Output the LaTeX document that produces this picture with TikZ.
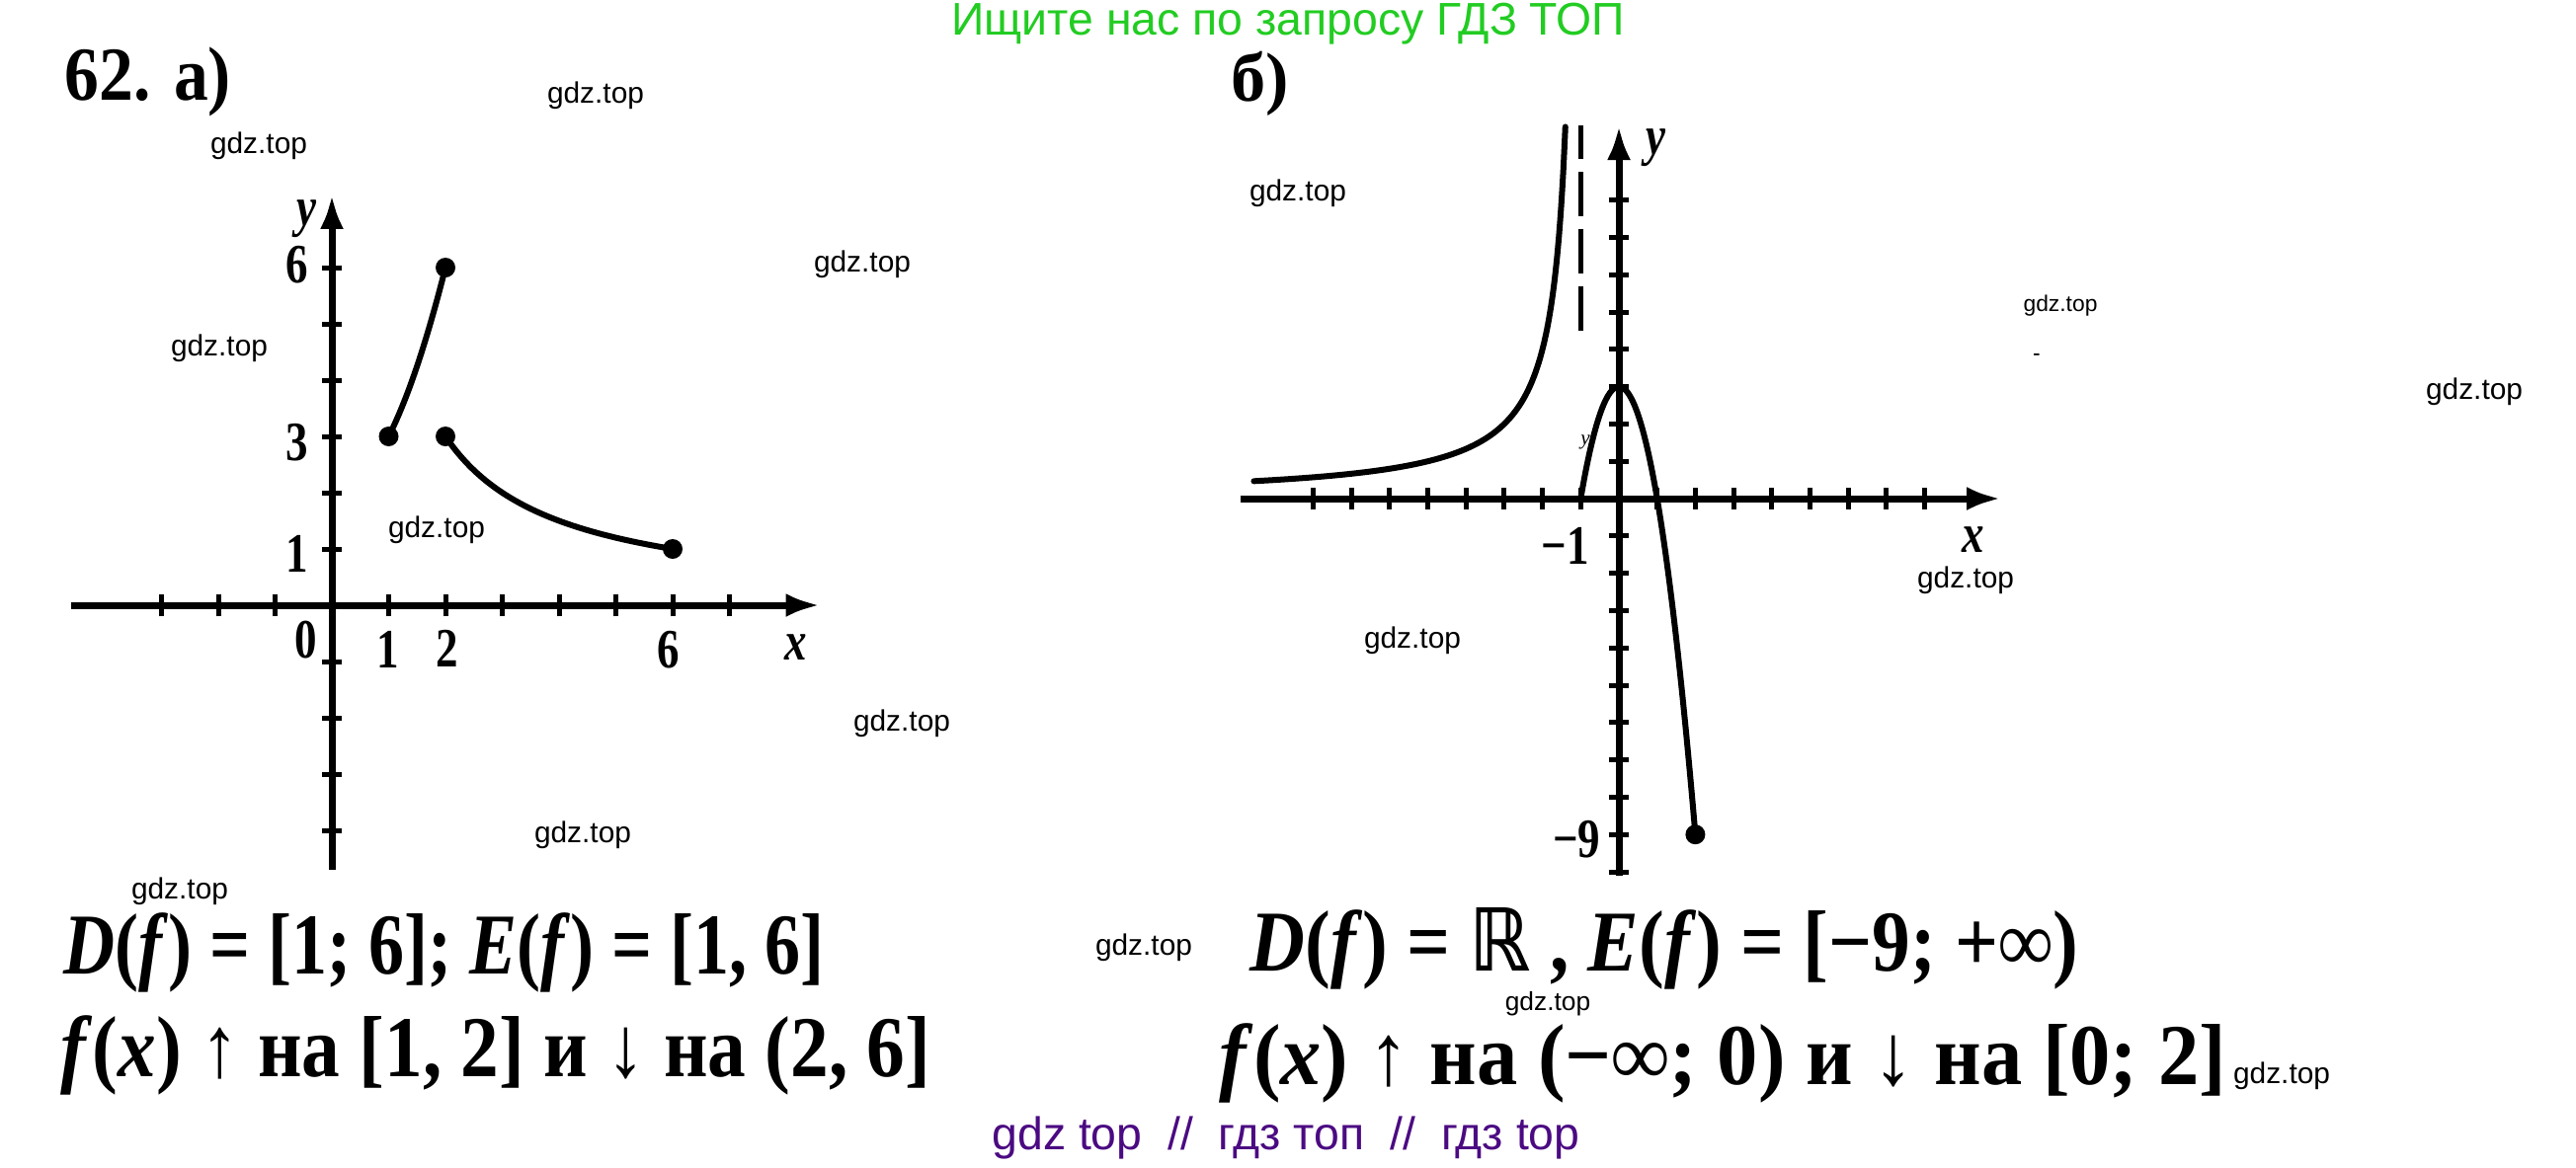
\documentclass[tikz,border=0pt]{standalone}
\usepackage{fontspec}
\setmainfont{Liberation Serif}
\newfontfamily\wmfont{Liberation Sans}
\newfontfamily\symfont{DejaVu Sans}
\usetikzlibrary{arrows.meta}
\definecolor{hdrgreen}{HTML}{22CC22}
\definecolor{ftrpurple}{HTML}{4B0A82}
\newcommand{\fs}[1]{\fontsize{#1}{#1}\selectfont}
\newcommand{\vi}[1]{\textit{#1}}

\tikzset{
  axisline/.style={line width=0.7mm, -{Latex[length=3.5mm,width=2.4mm]}},
  graphline/.style={line width=0.6mm, line cap=round},
  tickmark/.style={line width=0.5mm},
  enddot/.style={circle, fill, inner sep=0pt, minimum size=2mm},
  wmark/.style={font=\wmfont\fs{8.5}, inner sep=0pt},
  numlbl/.style={font=\bfseries\fs{16}, inner sep=0pt, xscale=0.8},
  formula/.style={font=\bfseries\fs{25}, inner sep=0pt, anchor=west},
}

\begin{document}
\begin{tikzpicture}[x=0.1mm, y=-0.1mm]
    \useasboundingbox (0,0) rectangle (2608,1182);

    % Header and footer lines
    \node[font=\wmfont\fs{13.2}, text=hdrgreen, inner sep=0pt] (hdr) at (1304,24) {Ищите нас по запросу ГДЗ ТОП};
    \node[font=\wmfont\fs{13.2}, text=ftrpurple, inner sep=0pt] (ftr) at (1302,1152) {gdz top\ \ //\ \ гдз топ\ \ //\ \ гдз top};

    % Task labels
    \node[font=\bfseries\fs{22}, inner sep=0pt, xscale=0.9] (taska) at (150,83) {62. а)};
    \node[font=\bfseries\fs{20}, inner sep=0pt] (taskb) at (1276,85) {б)};

    % Graph a
    \begin{scope}[shift={(336,613)}, x=5.75mm, y=5.7mm]
        % Draw the axes
        \draw[axisline] (-4.6,0) -- (8.6,0);
        \draw[axisline] (0,-4.7) -- (0,7.3);
        \foreach \i in {-3,-2,-1,1,2,...,7}
            \draw[tickmark] (\i,-0.2) -- (\i,0.2);
        \foreach \j in {-4,...,-1,1,2,...,6}
            \draw[tickmark] (-0.17,\j) -- (0.17,\j);

        % Draw the two pieces
        \draw[graphline] plot[domain=1:2, samples=30, smooth] (\x, {\x*\x+2});
        \draw[graphline] plot[domain=2:6, samples=40, smooth] (\x, {6/\x});
        \node[enddot] (pa1) at (1,3) {};
        \node[enddot] (pa2) at (2,6) {};
        \node[enddot] (pa3) at (2,3) {};
        \node[enddot] (pa4) at (6,1) {};

        % Labels
        \node[numlbl] (oa) at (-0.45,-0.61) {0};
        \node[numlbl] (xa1) at (0.99,-0.79) {1};
        \node[numlbl] (xa2) at (2.03,-0.77) {2};
        \node[numlbl] (xa6) at (5.93,-0.79) {6};
        \node[numlbl] (ya6) at (-0.61,6.05) {6};
        \node[numlbl] (ya3) at (-0.61,2.89) {3};
        \node[numlbl] (ya1) at (-0.61,0.91) {1};
        \node[numlbl] (xna) at (8.17,-0.74) {\vi{x}};
        \node[numlbl] (yna) at (-0.45,6.86) {\vi{y}};
    \end{scope}

    % Graph b
    \begin{scope}[shift={(1639,505)}, x=3.87mm, y=3.78mm]
        % Draw the axes
        \draw[axisline] (-9.9,0) -- (10,0);
        \draw[axisline] (0,-10.1) -- (0,10);
        \foreach \i in {-8,...,-1,1,2,...,8}
            \draw[tickmark] (\i,-0.28) -- (\i,0.28);
        \foreach \j in {-10,...,-1,1,2,...,8}
            \draw[tickmark] (-0.27,\j) -- (0.27,\j);

        % Asymptote
        \draw[line width=0.5mm, dash pattern=on 4.5mm off 1.3mm] (-1,4.5) -- (-1,10);

        % Draw the two pieces
        \draw[graphline] plot[domain=-9.55:-1.40, samples=150, smooth] (\x, {-4/(\x+1)});
        \draw[graphline] plot[domain=-1:2, samples=60, smooth] (\x, {3-3*\x*\x});
        \node[enddot] (pb1) at (2,-9) {};

        % Labels
        \node[numlbl] (xbm1) at (-1.40,-1.27) {−1};
        \node[numlbl] (ybm9) at (-1.11,-9.13) {−9};
        \node[numlbl] (xnb) at (9.28,-1.11) {\vi{x}};
        \node[numlbl] (ynb) at (0.96,9.39) {\vi{y}};
        \node[font=\itshape\fs{6}, inner sep=0pt] (ysm) at (-0.88,1.51) {y};
    \end{scope}

    % Answers
    \node[formula, xscale=0.82] (doma) at (64,965) {\vi{D}(\vi{f}) = [1; 6]; \vi{E}(\vi{f}) = [1, 6]};
    \node[formula, xscale=0.88] (mona) at (61,1069) {\vi{f}(\vi{x}) ↑ на [1, 2] и ↓ на (2, 6]};
    \node[formula, xscale=0.88] (domb) at (1265,961) {\vi{D}(\vi{f}) = {\symfont ℝ} , \vi{E}(\vi{f}) = [−9; +∞)};
    \node[formula, xscale=0.94] (monb) at (1234,1077) {\vi{f}(\vi{x}) ↑ на (−∞; 0) и ↓ на [0; 2]};

    % Watermarks
    \foreach \wx/\wy [count=\k] in {603/97, 262/148, 873/268, 222/353, 442/537,
        913/733, 590/846, 182/903, 1314/196, 2505/397, 1990/588, 1430/649,
        1158/960}
        \node[wmark] (wm\k) at (\wx,\wy) {gdz.top};
    \node[wmark, font=\wmfont\fs{7.5}] (wmmid) at (1567,1017) {gdz.top};
    \node[wmark, font=\wmfont\fs{6.5}] (wmsm) at (2086,310) {gdz.top};
    \node[wmark, font=\wmfont\fs{6.5}] (wmdash) at (2062,362) {-};
    \node[wmark] (wmsub) at (2310,1090) {gdz.top};
\end{tikzpicture}
\end{document}
